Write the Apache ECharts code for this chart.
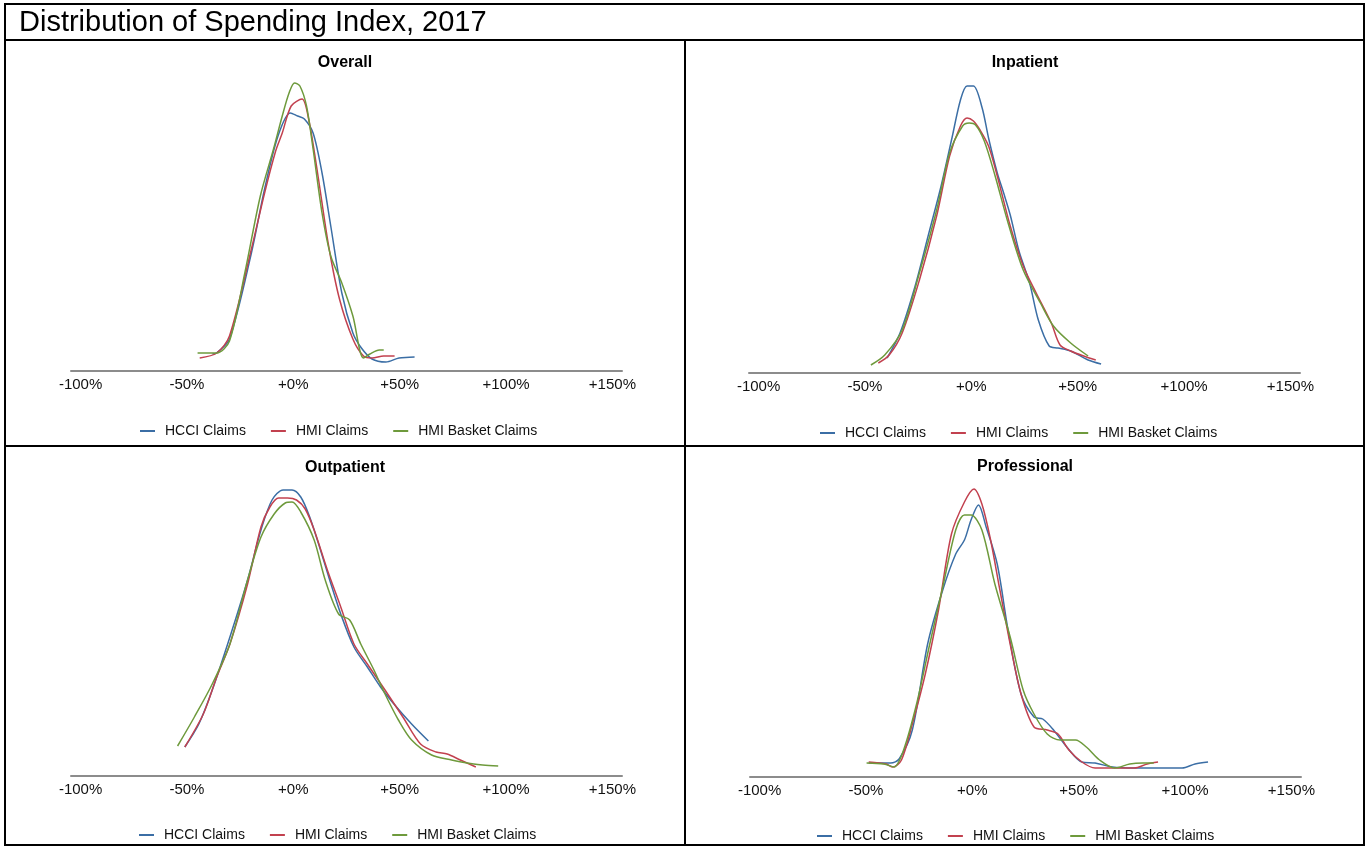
<!DOCTYPE html>
<html>
<head>
<meta charset="utf-8">
<style>
  html, body { margin: 0; padding: 0; background: #fff; }
  #main { width: 1366px; height: 846px; }
</style>
</head>
<body>
<div id="main"></div>
<script src="https://cdn.jsdelivr.net/npm/echarts@6/dist/echarts.min.js"></script>
<script>
// series names and tick labels
var seriesNames = ['HCCI Claims', 'HMI Claims', 'HMI Basket Claims'];
var tickValues = [-100, -50, 0, 50, 100, 150];
var panelTitles = ['Overall', 'Inpatient', 'Outpatient', 'Professional'];

// density curves, [spending index %, density]
var overallHcci = [[-38,.17],[-36,.18],[-30,.32],[-19.7,1.18],[-13.5,1.82],[-7.2,2.35],[-1.4,2.58],[2,2.55],[5.2,2.52],[9.3,2.38],[13.5,1.98],[17.6,1.45],[22.8,.78],[28,.38],[32,.23],[37,.12],[43.5,.09],[49.7,.13],[57,.14]];
var overallHmi = [[-44,.13],[-36,.18],[-30,.35],[-19.7,1.22],[-13.5,1.78],[-8.3,2.2],[-5.2,2.38],[-1,2.65],[4.1,2.72],[7.2,2.52],[11.4,1.98],[16.6,1.25],[21.7,.72],[28,.32],[33,.15],[37,.13],[42.5,.15],[47.6,.15]];
var overallBasket = [[-45,.18],[-36,.18],[-30,.3],[-22.8,.98],[-15.5,1.75],[-9.3,2.22],[-5.2,2.55],[-2,2.78],[0.6,2.88],[3.1,2.85],[6.2,2.65],[9.3,2.22],[13.5,1.58],[17.6,1.15],[22.8,.88],[28,.55],[33,.13],[36,.17],[40.4,.21],[42.5,.21]];

var inpatientHcci = [[-39.6,.15],[-33.5,.4],[-26.4,.87],[-20.3,1.37],[-14.2,1.87],[-9.1,2.35],[-5.1,2.73],[-2,2.87],[1,2.87],[5.1,2.65],[8.1,2.35],[12.2,2.0],[15.2,1.8],[18.3,1.58],[22.4,1.22],[27.4,.9],[31.5,.53],[36.6,.27],[40.7,.25],[46.7,.22],[54.9,.13],[61,.09]];
var inpatientHmi = [[-43.7,.1],[-38.6,.18],[-32.5,.4],[-24.4,.93],[-16.3,1.57],[-10.2,2.17],[-5.1,2.47],[-2,2.55],[1,2.52],[4.1,2.43],[8.1,2.27],[12.2,1.97],[18.3,1.47],[24.4,1.07],[30.5,.8],[37.6,.5],[41.7,.28],[46.7,.22],[52.8,.17],[58.5,.13]];
var inpatientBasket = [[-47.2,.08],[-40.7,.18],[-32.5,.43],[-24.4,1.0],[-16.3,1.63],[-10.2,2.2],[-4.1,2.47],[-1,2.5],[2,2.48],[6.1,2.32],[11.2,1.97],[17.3,1.5],[24.4,1.03],[32.5,.7],[38.6,.47],[46.7,.3],[54.9,.17]];

var outpatientHcci = [[-51,.29],[-44.4,.52],[-38.1,.86],[-29.8,1.39],[-21.5,1.96],[-15.2,2.46],[-10,2.76],[-4.8,2.86],[-0.6,2.86],[3.5,2.79],[7.7,2.59],[11.9,2.32],[17.1,1.96],[22.3,1.62],[28.5,1.29],[34.8,1.09],[41,.89],[47.3,.72],[55.6,.52],[63.5,.35]];
var outpatientHmi = [[-51,.29],[-42.3,.62],[-36,.99],[-29.8,1.32],[-21.5,1.92],[-15.2,2.49],[-11,2.69],[-6.9,2.78],[-2.7,2.78],[1.5,2.76],[5.6,2.67],[9.8,2.46],[16,2.06],[22.3,1.69],[28.5,1.32],[34.8,1.12],[43.1,.86],[51.5,.59],[59.8,.32],[67.1,.24],[72.3,.22],[78.5,.16],[85.8,.09]];
var outpatientBasket = [[-54.4,.3],[-46.5,.59],[-38.1,.92],[-29.8,1.32],[-21.5,1.96],[-15.2,2.39],[-9,2.62],[-3.8,2.73],[-0.6,2.74],[3.5,2.64],[9.8,2.36],[15,1.96],[21.3,1.62],[26.5,1.56],[31.7,1.32],[37.9,1.06],[43.1,.82],[49.4,.56],[55.6,.36],[65,.21],[74.4,.16],[84.8,.12],[89,.11],[96.3,.1]];

var professionalHcci = [[-48.7,.14],[-38.4,.14],[-34.4,.18],[-28.2,.47],[-21,1.33],[-13.9,1.87],[-7.8,2.23],[-3.7,2.37],[-0.6,2.57],[2.9,2.72],[6.5,2.5],[11.7,2.13],[16.8,1.47],[22.9,.83],[29,.6],[33.1,.58],[38.2,.47],[44.4,.3],[51.5,.15],[57.7,.14],[65.8,.1],[76.1,.09],[98.6,.09],[104.7,.13],[110.8,.15]];
var professionalHmi = [[-48.7,.15],[-40.5,.13],[-37.4,.1],[-33.3,.17],[-28.2,.53],[-22.1,1.03],[-15.9,1.67],[-9.8,2.43],[-3.7,2.75],[0.8,2.88],[4.5,2.73],[8.6,2.37],[12.7,1.9],[17.8,1.33],[22.9,.83],[29,.5],[35.2,.47],[40.3,.43],[45.4,.27],[51.5,.15],[57.7,.09],[67.9,.09],[76.1,.09],[82.2,.13],[87.3,.15]];
var professionalBasket = [[-49.7,.14],[-41.5,.13],[-36.8,.1],[-32.3,.27],[-26.2,.73],[-20,1.33],[-13.9,1.9],[-7.8,2.47],[-3.7,2.62],[-0.6,2.62],[4.5,2.47],[10.6,1.93],[17.8,1.4],[23.9,.87],[29,.63],[35.2,.43],[41.3,.37],[48.5,.37],[53.6,.3],[59.8,.17],[66.9,.09],[74,.13],[80.2,.14],[85.3,.14]];

var panelData = [
    [overallHcci, overallHmi, overallBasket],
    [inpatientHcci, inpatientHmi, inpatientBasket],
    [outpatientHcci, outpatientHmi, outpatientBasket],
    [professionalHcci, professionalHmi, professionalBasket]
];

var colors = ['#3B6EA5', '#C2414F', '#6E9A3C'];
var font = '"Liberation Sans", Arial, sans-serif';

// panel layout: grid left, axis baseline y, title centre, legend
var panels = [
    {left: 71,  axisY: 371, cx: 345,  titleY: 63,  legendX: 140, legendY: 429},
    {left: 749, axisY: 373, cx: 1025, titleY: 63,  legendX: 820, legendY: 431},
    {left: 71,  axisY: 776, cx: 345,  titleY: 468, legendX: 139, legendY: 833},
    {left: 750, axisY: 777, cx: 1025, titleY: 467, legendX: 817, legendY: 834}
];
var plotH = 300;

var myChart = echarts.init(document.getElementById('main'));

var grids = [], xAxes = [], yAxes = [], legends = [], series = [], graphics = [];

panels.forEach(function (p, i) {
    grids.push({left: p.left, top: p.axisY - plotH, width: 551, height: plotH});
    xAxes.push({
        type: 'value',
        gridIndex: i,
        min: -104.5,
        max: 154.5,
        splitLine: {show: false},
        axisTick: {show: false},
        axisLine: {lineStyle: {color: '#8c8c8c', width: 2}},
        axisLabel: {
            customValues: tickValues,
            margin: 6,
            color: '#111',
            fontSize: 15,
            fontFamily: font,
            formatter: function (v) { return (v >= 0 ? '+' : '') + v + '%'; }
        }
    });
    yAxes.push({type: 'value', gridIndex: i, min: 0, max: 3, show: false});
    legends.push({
        left: p.legendX,
        top: p.legendY - 5,
        padding: 0,
        data: seriesNames,
        icon: 'rect',
        itemWidth: 15,
        itemHeight: 2,
        itemGap: 25,
        textStyle: {fontSize: 14, color: '#111', fontFamily: font, padding: [0, 0, 0, 5]}
    });
    panelData[i].forEach(function (d, k) {
        series.push({
            name: seriesNames[k],
            type: 'line',
            xAxisIndex: i,
            yAxisIndex: i,
            data: d,
            smooth: 0.3,
            showSymbol: false,
            lineStyle: {width: 1.5, color: colors[k]},
            itemStyle: {color: colors[k]}
        });
    });
    graphics.push({
        type: 'text',
        x: p.cx,
        y: p.titleY,
        style: {
            text: panelTitles[i],
            fontSize: 16,
            fontWeight: 'bold',
            fontFamily: font,
            fill: '#000',
            textAlign: 'center',
            textVerticalAlign: 'middle'
        }
    });
});

// table borders
var border = {stroke: '#000', lineWidth: 2};
graphics.push(
    {type: 'rect', shape: {x: 5, y: 4, width: 1359, height: 841}, style: {fill: 'none', stroke: '#000', lineWidth: 2}},
    {type: 'line', shape: {x1: 5, y1: 40, x2: 1364, y2: 40}, style: border},
    {type: 'line', shape: {x1: 685, y1: 40, x2: 685, y2: 845}, style: border},
    {type: 'line', shape: {x1: 5, y1: 446, x2: 1364, y2: 446}, style: border}
);

var option = {
    animation: false,
    title: {
        text: 'Distribution of Spending Index, 2017',
        left: 19,
        top: 8,
        padding: 0,
        textStyle: {fontSize: 29, fontWeight: 'normal', color: '#000', fontFamily: font}
    },
    grid: grids,
    xAxis: xAxes,
    yAxis: yAxes,
    legend: legends,
    series: series,
    graphic: graphics
};
myChart.setOption(option);
</script>
</body>
</html>
